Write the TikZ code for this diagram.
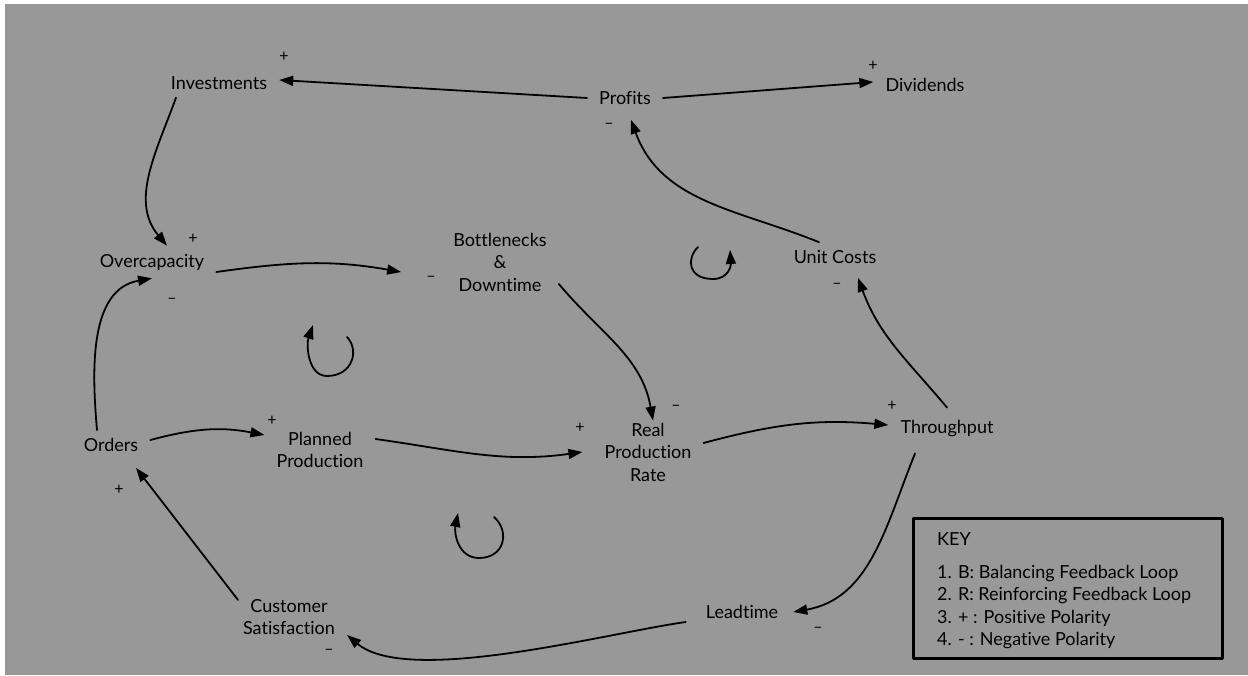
\documentclass[tikz,border=0pt]{standalone}
\usepackage{fontspec}
\setmainfont{Lato}[Ligatures=NoCommon]
\usetikzlibrary{arrows.meta}
\definecolor{bggray}{HTML}{989898}
\begin{document}
\begin{tikzpicture}[x=1pt, y=1pt, line cap=round, line join=round, font=\fontsize{18}{22.5}\selectfont, >={Triangle[length=14pt,width=10pt]}]
	\tikzset{var/.style={align=center, inner xsep=12pt, inner ysep=8pt},
		pol/.style={font=\fontsize{16}{16}\selectfont, inner sep=0pt},
		link/.style={->, line width=1.8pt},
		turn/.style={->, line width=1.8pt}}
	\useasboundingbox (0,0) rectangle (1248,675);
	\fill[white] (0,0) rectangle (1248,675);
	\fill[bggray] (5,0) rectangle (1248,671);
	% variables
	\node[var] (inv) at (219,592) {Investments};
	\node[var] (prof) at (625,577) {Profits};
	\node[var] (div) at (925,590) {Dividends};
	\node[var] (oc) at (152,413) {Overcapacity};
	\node[var] (bd) at (500,413) {Bottlenecks\\\&\\Downtime};
	\node[var] (uc) at (835,418) {Unit Costs};
	\node[var] (ord) at (111,230) {Orders};
	\node[var] (pp) at (320,225) {Planned\\Production};
	\node[var] (rpr) at (648,223) {Real\\Production\\Rate};
	\node[var] (thr) at (947,246) {Throughput};
	\node[var] (lt) at (742,63) {Leadtime};
	\node[var] (cs) at (289,58) {Customer\\Satisfaction};
	% links
	\draw[link] (prof.west) -- ([yshift=3pt]inv.east);
	\draw[link] (prof.east) -- ([yshift=3pt]div.west);
	\draw[link] ([xshift=-16pt]uc.north) to[out=158, in=-70] ([xshift=6pt,yshift=-7pt]prof.south);
	\draw[link] ([xshift=-43pt]inv.south) to[out=-110, in=130] ([xshift=15pt]oc.north);
	\draw[link] ([xshift=-14pt]ord.north) to[out=95, in=190] (oc.south);
	\draw[link] ([yshift=-10pt]oc.east) to[out=8, in=170] ([xshift=-40pt,yshift=-10pt]bd.west);
	\draw[link] ([yshift=-22pt]bd.east) to[out=-50, in=100] ([xshift=5pt,yshift=-6pt]rpr.north);
	\draw[link] ([yshift=5pt]ord.east) to[out=15, in=169] ([yshift=15pt]pp.west);
	\draw[link] ([yshift=11pt]pp.east) to[out=-8, in=188] ([xshift=-10pt]rpr.west);
	\draw[link] ([yshift=9pt]rpr.east) to[out=15, in=175] ([yshift=4pt]thr.west);
	\draw[link] ([yshift=5pt]thr.north) to[out=130, in=-70] ([xshift=23pt,yshift=-6pt]uc.south);
	\draw[link] ([xshift=-32pt,yshift=-8pt]thr.south) to[out=-112, in=10] ([xshift=3pt]lt.east);
	\draw[link] ([xshift=-8pt,yshift=-10pt]lt.west) to[out=188, in=-40, looseness=0.6] ([yshift=8pt]cs.south east);
	\draw[link] ([xshift=-51pt,yshift=-9pt]cs.north) -- ([xshift=25pt,yshift=-8pt]ord.south);
	% polarities
	\node[pol] (s1) at (284,618) {+};
	\node[pol] (s2) at (873,609) {+};
	\node[pol] (s3) at (609,549) {–};
	\node[pol] (s4) at (193,436) {+};
	\node[pol] (s5) at (172,374) {–};
	\node[pol] (s6) at (431,396) {–};
	\node[pol] (s7) at (837,389) {–};
	\node[pol] (s8) at (676,267) {–};
	\node[pol] (s9) at (580,247) {+};
	\node[pol] (s10) at (892,269) {+};
	\node[pol] (s11) at (272,254) {+};
	\node[pol] (s12) at (119,185) {+};
	\node[pol] (s13) at (329,23) {–};
	\node[pol] (s14) at (818,45) {–};
	% loops
	\draw[turn] (347,338) .. controls (360,324) and (352,299) .. (327,299) .. controls (308,299) and (306,330) .. (313,350);
	\draw[turn] (698,428) .. controls (686,416) and (688,396) .. (713,396) .. controls (729,396) and (731,410) .. (730,425);
	\draw[turn] (494,158) .. controls (510,144) and (505,117) .. (479,117) .. controls (458,117) and (454,142) .. (458,162);
	% key
	\draw[line width=3pt] (913,17) rectangle (1222,156);
	\node[anchor=west, inner sep=0pt] (key) at (937,136) {KEY};
	\node[anchor=north west, align=left, inner sep=0pt] (keylist) at (937,110) {1. B: Balancing Feedback Loop\\2. R: Reinforcing Feedback Loop\\3. + : Positive Polarity\\4. - : Negative Polarity};
\end{tikzpicture}
\end{document}
